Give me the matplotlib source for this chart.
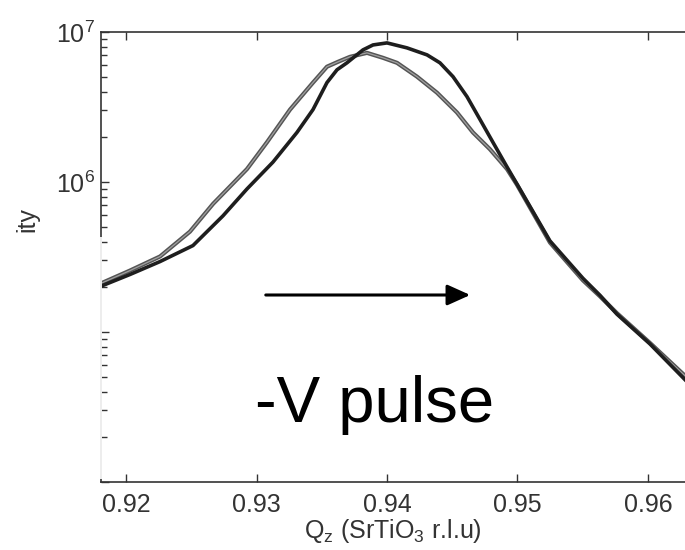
import matplotlib
matplotlib.use("Agg")
import matplotlib.pyplot as plt
from matplotlib.patches import Rectangle, FancyArrowPatch
from matplotlib.ticker import LogLocator, FixedLocator, NullFormatter

plt.rcParams['font.family'] = ['Liberation Sans', 'DejaVu Sans']
plt.rcParams['mathtext.default'] = 'regular'

# values
qz_before = [0.91808, 0.92031, 0.92261, 0.92490, 0.92667, 0.92927, 0.93080, 0.93257,
             0.93433, 0.93540, 0.93625, 0.93716, 0.93847, 0.93969, 0.94077, 0.94230,
             0.94383, 0.94536, 0.94659, 0.94789, 0.94920, 0.94996, 0.95249, 0.95502,
             0.95632, 0.95762, 0.96015, 0.96284]
int_before = [2.11e5, 2.57e5, 3.19e5, 4.67e5, 7.15e5, 1.220e6, 1.840e6, 3.04e6,
              4.60e6, 5.87e6, 6.33e6, 6.83e6, 7.26e6, 6.73e6, 6.23e6, 5.04e6,
              3.94e6, 2.91e6, 2.14e6, 1.654e6, 1.22e6, 9.6e5, 3.95e5, 2.21e5,
              1.731e5, 1.336e5, 8.46e4, 5.11e4]

qz_after = [0.91808, 0.92031, 0.92261, 0.92513, 0.92743, 0.92927, 0.93126, 0.93310,
            0.93433, 0.93540, 0.93617, 0.93693, 0.93816, 0.93893, 0.94000, 0.94153,
            0.94307, 0.94406, 0.94506, 0.94613, 0.94713, 0.94812, 0.94920, 0.94996,
            0.95249, 0.95502, 0.95632, 0.95762, 0.96015, 0.96284]
int_after = [2.02e5, 2.42e5, 2.95e5, 3.77e5, 5.95e5, 8.99e5, 1.357e6, 2.14e6,
             3.04e6, 4.60e6, 5.60e6, 6.23e6, 7.60e6, 8.20e6, 8.46e6, 7.84e6,
             7.04e6, 6.23e6, 5.04e6, 3.71e6, 2.61e6, 1.840e6, 1.26e6, 9.7e5,
             4.05e5, 2.28e5, 1.758e5, 1.316e5, 8.33e4, 4.81e4]

xticks = [0.92, 0.93, 0.94, 0.95, 0.96]
xtick_labels = ['0.92', '0.93', '0.94', '0.95', '0.96']
yticks = [1e4, 1e5, 1e6, 1e7]
ytick_labels = ['', '', '$10^6$', '$10^7$']  # lower ones are hidden on the slide

fig = plt.figure(figsize=(6.85, 5.5), dpi=100)
ax = fig.add_axes([0.1474, 0.1236, 0.8526, 0.8182])

# grey: before pulse, dark: after pulse
ax.plot(qz_before, int_before, color='#555555', lw=3.0)
ax.plot(qz_before, int_before, color='#a0a0a0', lw=0.9)
ax.plot(qz_after, int_after, color='#1e1e1e', lw=2.6)

ax.set_yscale('log')
ax.set_xlim(0.91808, 0.96284)
ax.set_ylim(1e4, 1e7)

ax.xaxis.set_major_locator(FixedLocator(xticks))
ax.set_xticklabels(xtick_labels)
ax.yaxis.set_major_locator(FixedLocator(yticks))
ax.set_yticklabels(ytick_labels)
ax.yaxis.set_minor_locator(LogLocator(base=10, subs=range(2, 10), numticks=20))
ax.yaxis.set_minor_formatter(NullFormatter())

ax.tick_params(which='both', direction='in', top=True, right=False,
               labelsize=18, labelcolor='#333333', color='#333333', width=1.0)
ax.tick_params(which='major', length=6)
ax.tick_params(which='minor', length=4)
ax.tick_params(axis='x', pad=8)
ax.tick_params(axis='y', pad=4)
ax.spines['right'].set_visible(False)
for s in ['left', 'top', 'bottom']:
    ax.spines[s].set_color('#333333')
    ax.spines[s].set_linewidth(1.2)

ax.set_xlabel('Q$_z$ (SrTiO$_3$ r.l.u)', fontsize=18, color='#333333', labelpad=0)

# white patch from the cut-out slide covering the lower left part
fig.patches.append(Rectangle((0, 0.13), 0.1488, 1 - 237 / 550 - 0.13, transform=fig.transFigure,
                             facecolor='white', edgecolor='none', alpha=0.9, zorder=5))

fig.text(15 / 685, 1 - 207 / 550, 'ity', rotation=90, fontsize=18, color='#333333',
         ha='left', va='top')

# annotation from the slide
fig.patches.append(FancyArrowPatch((263 / 685, 1 - 295 / 550), (473 / 685, 1 - 295 / 550),
                                   transform=fig.transFigure, arrowstyle='-|>,head_length=1.0,head_width=0.45',
                                   mutation_scale=14, lw=2.2, color='black', zorder=6))
fig.text(375 / 685, 1 - 422 / 550, '-V pulse', fontsize=47, ha='center', va='baseline', color='black')

fig.savefig('out.png', dpi=100)
